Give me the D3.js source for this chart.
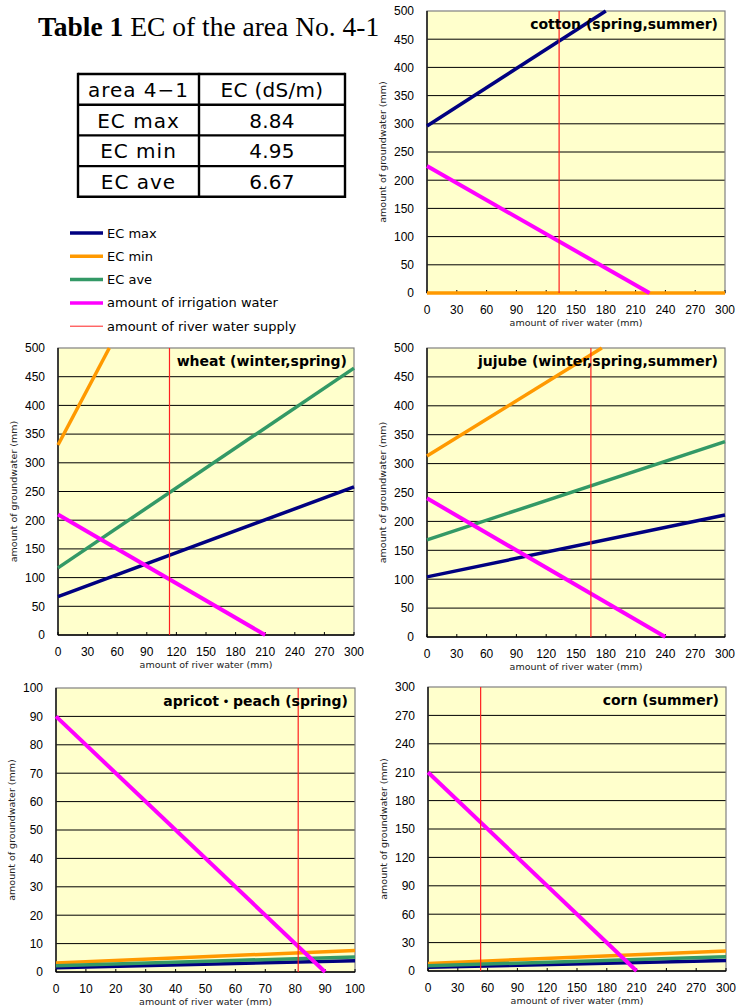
<!DOCTYPE html>
<html lang="en">
<head>
<meta charset="UTF-8">
<title>EC of the area No. 4-1</title>
<script src="https://cdn.jsdelivr.net/npm/d3@7"></script>
<style>
  body { margin: 0; background: #fff; }
  svg { display: block; }
  .tick-label { font-family: "Liberation Sans", Arial, sans-serif; font-size: 12px; fill: #000; }
  .axis-title { font-family: "DejaVu Sans", sans-serif; font-size: 9.5px; fill: #222; }
  .chart-title { font-family: "DejaVu Sans", "Noto Sans CJK JP", sans-serif; font-weight: bold; font-size: 14px; fill: #000; }
  .legend text { font-family: "DejaVu Sans", sans-serif; font-size: 13px; fill: #000; }
  .table text { font-family: "DejaVu Sans", sans-serif; font-size: 20px; fill: #000; }
</style>
</head>
<body>
<script>
// data
const seriesNames = ["EC max", "EC min", "EC ave", "amount of irrigation water", "amount of river water supply"];
const chartTitles = ["cotton (spring,summer)", "wheat (winter,spring)", "jujube (winter,spring,summer)", "apricot・peach (spring)", "corn (summer)"];
const xMax = [300, 300, 300, 100, 300];
const yMax = [500, 500, 500, 100, 300];
const xTickStep = [30, 30, 30, 10, 30];
const yTickStep = [50, 50, 50, 10, 30];

// each line: two end points [river water, groundwater]
const ecMax = [[[0, 296], [180, 500]], [[0, 67], [300, 258]], [[0, 104], [300, 211]], [[0, 1.5], [100, 4]], [[0, 4], [300, 11]]];
const ecMin = [[[0, 0], [300, 0]], [[0, 331], [52, 500]], [[0, 313], [176, 500]], [[0, 3.2], [100, 7.6]], [[0, 8], [300, 21]]];
const ecAve = [null, [[0, 117], [300, 465]], [[0, 168], [300, 338]], [[0, 2.2], [100, 5.3]], [[0, 5.5], [300, 15]]];
const irrigation = [[[0, 225], [224, 0]], [[0, 210], [210, 0]], [[0, 240], [240, 0]], [[0, 90], [90, 0]], [[0, 210], [210, 0]]];
const riverSupply = [133, 113, 165, 81, 53];

const tableHeader = ["area 4−1", "EC (dS/m)"];
const tableRows = ["EC max", "EC min", "EC ave"];
const tableValues = ["8.84", "4.95", "6.67"];

// styles
const colors = ["#000080", "#ff9900", "#339966", "#ff00ff", "#ff2020"];
const widths = [3.5, 3.5, 3.5, 4, 1.2];

// plot areas on the page
const frames = [
  {x: 427, y: 11, w: 298, h: 282},
  {x: 58, y: 348, w: 296, h: 287},
  {x: 427, y: 348, w: 298, h: 289},
  {x: 56, y: 688, w: 299, h: 284},
  {x: 428, y: 687, w: 298, h: 284}
];

const svg = d3.select("body").append("svg")
  .attr("width", 744)
  .attr("height", 1007);

// title
const title = svg.append("text")
  .attr("x", 38)
  .attr("y", 36)
  .style("font-family", "'Liberation Serif', 'Times New Roman', serif")
  .style("font-size", "27.5px");
title.append("tspan").attr("font-weight", "bold").text("Table 1");
title.append("tspan").text(" EC of the area No. 4-1");

// table
const table = svg.append("g").attr("class", "table");
const colX = [78, 199, 345];
const rowY = d3.range(5).map(i => 74 + i * 30.7);
const cells = [tableHeader].concat(tableRows.map((r, i) => [r, tableValues[i]]));
cells.forEach((row, i) => {
  row.forEach((t, j) => {
    table.append("text")
      .attr("x", (colX[j] + colX[j + 1]) / 2)
      .attr("y", (rowY[i] + rowY[i + 1]) / 2 + 7.5)
      .attr("text-anchor", "middle")
      .attr("letter-spacing", j === 0 ? 1 : 0.3)
      .text(t);
  });
});
table.selectAll("line.h").data(rowY).enter().append("line")
  .attr("x1", colX[0]).attr("x2", colX[2])
  .attr("y1", d => d).attr("y2", d => d)
  .attr("stroke", "#000").attr("stroke-width", 2.4);
table.selectAll("line.v").data(colX).enter().append("line")
  .attr("x1", d => d).attr("x2", d => d)
  .attr("y1", rowY[0] - 1.2).attr("y2", rowY[4] + 1.2)
  .attr("stroke", "#000").attr("stroke-width", 2.4);

// legend
const legend = svg.append("g").attr("class", "legend");
seriesNames.forEach((name, i) => {
  const y = 233 + i * 23.3;
  legend.append("line")
    .attr("x1", 70).attr("x2", 103)
    .attr("y1", y).attr("y2", y)
    .attr("stroke", colors[i])
    .attr("stroke-width", i === 4 ? 1 : 3.5);
  legend.append("text")
    .attr("x", 107).attr("y", y + 4.5)
    .text(name);
});

// charts
frames.forEach((f, c) => {
  const g = svg.append("g").attr("transform", `translate(${f.x},${f.y})`);
  const x = d3.scaleLinear().domain([0, xMax[c]]).range([0, f.w]);
  const y = d3.scaleLinear().domain([0, yMax[c]]).range([f.h, 0]);
  const xTicks = d3.range(0, xMax[c] + 1, xTickStep[c]);
  const yTicks = d3.range(0, yMax[c] + 1, yTickStep[c]);

  g.append("rect")
    .attr("width", f.w).attr("height", f.h)
    .attr("fill", "#ffffcc");

  // gridlines
  g.selectAll("line.grid").data(yTicks.slice(1, -1)).enter().append("line")
    .attr("x1", 0).attr("x2", f.w)
    .attr("y1", d => y(d)).attr("y2", d => y(d))
    .attr("stroke", "#000").attr("stroke-width", 1);

  g.append("rect")
    .attr("width", f.w).attr("height", f.h)
    .attr("fill", "none").attr("stroke", "#808080").attr("stroke-width", 1.2);

  // x tick marks inside
  g.selectAll("line.xt").data(xTicks).enter().append("line")
    .attr("x1", d => x(d)).attr("x2", d => x(d))
    .attr("y1", f.h).attr("y2", f.h - 3)
    .attr("stroke", "#000");

  g.append("line").attr("x1", 0).attr("x2", 0).attr("y1", 0).attr("y2", f.h)
    .attr("stroke", "#000").attr("stroke-width", 1.3);
  g.append("line").attr("x1", 0).attr("x2", f.w).attr("y1", f.h).attr("y2", f.h)
    .attr("stroke", "#000").attr("stroke-width", 1.3);

  // tick labels
  g.selectAll("text.xl").data(xTicks).enter().append("text")
    .attr("class", "tick-label")
    .attr("x", d => x(d)).attr("y", f.h + 20.5)
    .attr("text-anchor", "middle")
    .text(d => d);
  g.selectAll("text.yl").data(yTicks).enter().append("text")
    .attr("class", "tick-label")
    .attr("x", -13).attr("y", d => y(d) + 4.3)
    .attr("text-anchor", "end")
    .text(d => d);

  // axis titles
  g.append("text").attr("class", "axis-title")
    .attr("x", f.w / 2).attr("y", f.h + 32.5)
    .attr("text-anchor", "middle")
    .text("amount of river water (mm)");
  g.append("text").attr("class", "axis-title")
    .attr("transform", `translate(-41,${f.h / 2}) rotate(-90)`)
    .attr("text-anchor", "middle")
    .text("amount of groundwater (mm)");

  // series
  const clipId = "clip" + c;
  g.append("clipPath").attr("id", clipId)
    .append("rect").attr("x", -2).attr("y", -2).attr("width", f.w + 4).attr("height", f.h + 4);
  const plot = g.append("g").attr("clip-path", `url(#${clipId})`);
  const line = d3.line().x(d => x(d[0])).y(d => y(d[1]));
  [ecMax, ecMin, ecAve, irrigation].forEach((s, i) => {
    if (!s[c]) return;
    plot.append("path")
      .attr("d", line(s[c]))
      .attr("fill", "none")
      .attr("stroke", colors[i])
      .attr("stroke-width", widths[i]);
  });
  plot.append("line")
    .attr("x1", x(riverSupply[c])).attr("x2", x(riverSupply[c]))
    .attr("y1", 0).attr("y2", f.h)
    .attr("stroke", colors[4]).attr("stroke-width", widths[4]);

  g.append("text").attr("class", "chart-title")
    .attr("x", f.w - 7).attr("y", 18)
    .attr("text-anchor", "end")
    .text(chartTitles[c]);
});
</script>
</body>
</html>
